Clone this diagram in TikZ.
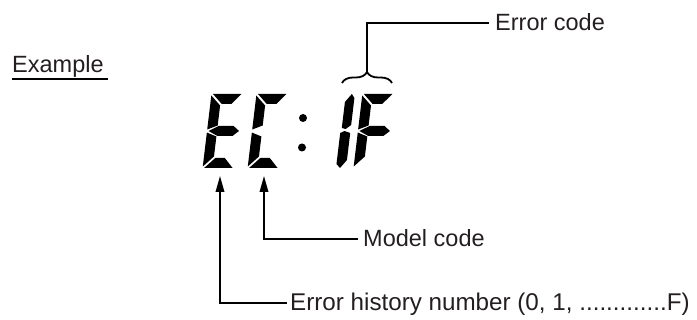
\documentclass[tikz,border=0pt]{standalone}
\usepackage{fontspec}
\setmainfont{Liberation Sans}
\usetikzlibrary{arrows.meta,decorations.pathreplacing}
\definecolor{txt}{HTML}{231F20}
\newcommand\segA{\fill (1.5,-74) -- (30,-74) -- (21,-64) -- (11.5,-64) -- cycle;}
\newcommand\segF{\fill (0,-72.5) -- (10,-62.5) -- (10,-42.5) -- (0,-38.5) -- cycle;}
\newcommand\segE{\fill (0,-35.5) -- (10,-31.5) -- (10,-11.5) -- (0,-1.5) -- cycle;}
\newcommand\segD{\fill (1.5,0) -- (30,0) -- (21,-10) -- (11.5,-10) -- cycle;}
\newcommand\segG{\fill (1.5,-37) -- (11,-42) -- (26,-42) -- (32,-37) -- (26,-32) -- (11,-32) -- cycle;}
\begin{document}
\begin{tikzpicture}[x=1pt,y=-1pt,
  lbl/.style={inner sep=0pt,anchor=base west,font=\fontsize{23.5}{28}\selectfont,text=txt},
  conn/.style={line width=1.8pt,draw=black},
  arr/.style={conn,-{Triangle[length=16pt,width=8.5pt]}},
  digit/.style={xslant=0.12}]
\useasboundingbox (0,0) rectangle (697,320);

% Example label
\node[lbl] (ex) at (12,73) {Example};
\draw[line width=1.5pt] ([yshift=-6pt]ex.base west) -- ([yshift=-6pt,xshift=4pt]ex.base east);

% digit E
\begin{scope}[shift={(202.6,168)},digit]
  \segA \segF \segG \segE \segD
\end{scope}
% digit C
\begin{scope}[shift={(247.6,168)},digit]
  \segA \segF \segE \segD
\end{scope}
% colon
\fill (303,118) circle (4);
\fill (302,147.5) circle (4);
% digit 1
\begin{scope}[shift={(336,168)},digit]
  \fill (1,-40) -- (1,-66) -- (7,-74) -- (10,-70) -- (10,-43) -- (5,-39) -- cycle;
  \fill (0,-35) -- (4,-37) -- (10,-35) -- (10,-8) -- (4,0) -- (0,-4) -- cycle;
\end{scope}
% digit F
\begin{scope}[shift={(353.5,168)},digit]
  \segA \segF \segG \segE
\end{scope}

% brace and Error code
\draw[line width=1.8pt,decorate,decoration={brace,amplitude=11pt}] (342,83) -- (392,83);
\coordinate (bt) at (367,72);
\node[lbl] (ec) at (495,31) {Error code};
\draw[conn] (bt) |- ([xshift=-6pt,yshift=8pt]ec.base west);

% Model code
\coordinate (tC) at (264,176);
\node[lbl] (mc) at (363,246.5) {Model code};
\draw[arr] ([xshift=-5pt,yshift=7.5pt]mc.base west) -| (tC);

% Error history number
\coordinate (tE) at (220,176);
\node[lbl,font=\fontsize{24.2}{28}\selectfont] (eh) at (290,310.5) {Error history number (0, 1, .............F)};
\draw[arr] ([xshift=-3pt,yshift=7.5pt]eh.base west) -| (tE);
\end{tikzpicture}
\end{document}
